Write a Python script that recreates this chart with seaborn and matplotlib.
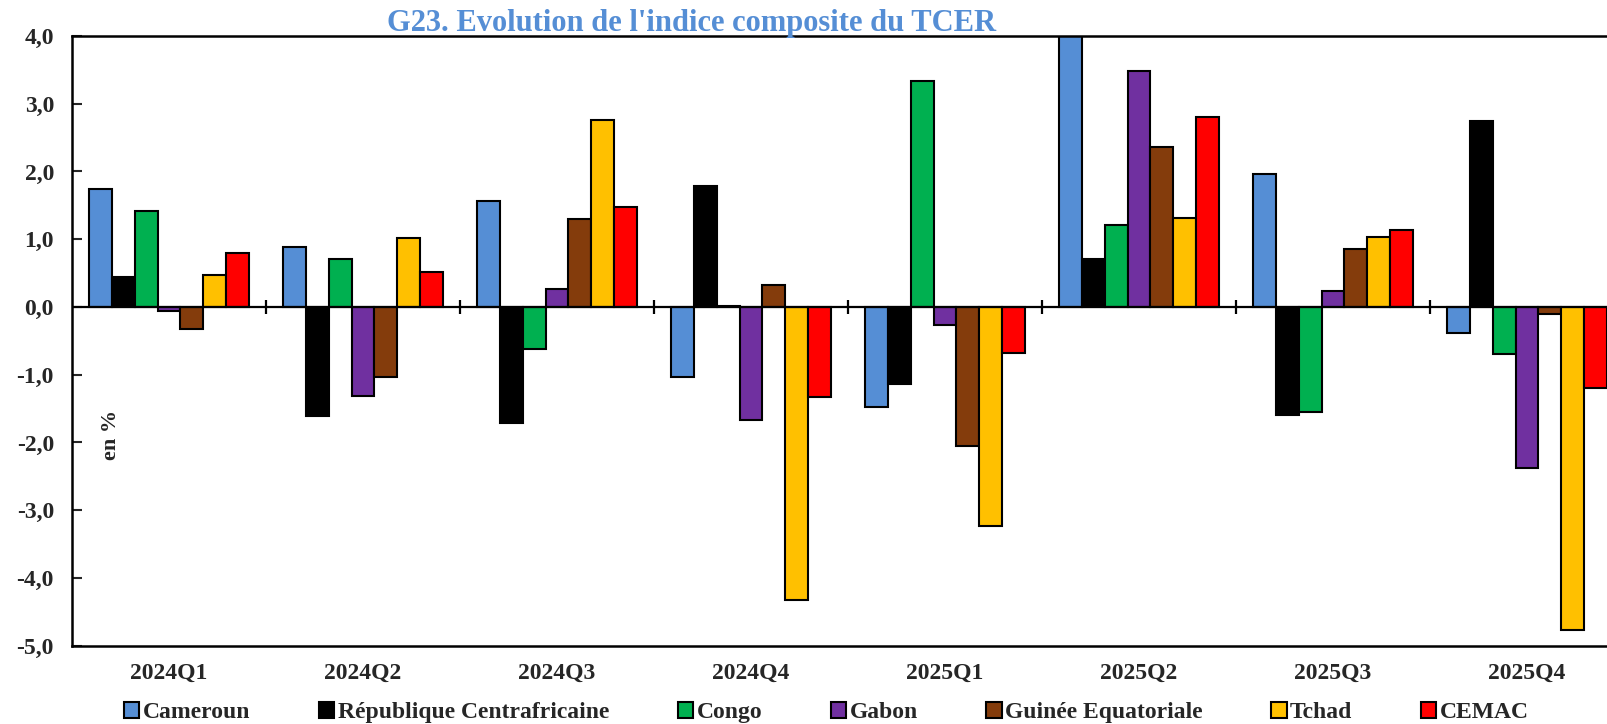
import numpy as np
import pandas as pd
import matplotlib
matplotlib.use('Agg')
import matplotlib.pyplot as plt
import seaborn as sns

quarters = ['2024Q1', '2024Q2', '2024Q3', '2024Q4', '2025Q1', '2025Q2', '2025Q3', '2025Q4']
pays = ['Cameroun', 'République Centrafricaine', 'Congo', 'Gabon', 'Guinée Equatoriale', 'Tchad', 'CEMAC']
cameroun = [1.74, 0.89, 1.56, -1.03, -1.47, 4.30, 1.97, -0.39]
rca = [0.44, -1.61, -1.71, 1.79, -1.14, 0.71, -1.59, 2.74]
congo = [1.42, 0.71, -0.62, 0.01, 3.33, 1.21, -1.55, -0.69]
gabon = [-0.06, -1.32, 0.26, -1.67, -0.26, 3.49, 0.23, -2.37]
guinee = [-0.32, -1.03, 1.30, 0.32, -2.05, 2.36, 0.86, -0.10]
tchad = [0.47, 1.02, 2.76, -4.33, -3.23, 1.32, 1.03, -4.77]
cemac = [0.79, 0.52, 1.47, -1.33, -0.68, 2.81, 1.14, -1.20]
couleurs = ['#558ED5', '#000000', '#00B050', '#7030A0', '#843C0C', '#FFC000', '#FF0000']

series = [cameroun, rca, congo, gabon, guinee, tchad, cemac]
df = pd.DataFrame({
    'trimestre': quarters * len(pays),
    'pays': [p for p in pays for _ in quarters],
    'valeur': [v for s in series for v in s],
})

sns.set_style('white')
plt.rcParams['font.family'] = ['Liberation Serif', 'DejaVu Serif']
plt.rcParams['font.weight'] = 'bold'

fig = plt.figure(figsize=(16.08, 7.24), dpi=100)
ax = fig.add_axes([72 / 1608, 1 - 645.7 / 724, 1552 / 1608, 609.7 / 724])

sns.barplot(data=df, x='trimestre', y='valeur', hue='pays', hue_order=pays,
            palette=couleurs, saturation=1, width=0.82, gap=0,
            edgecolor='black', linewidth=1.5, ax=ax)

ax.set_ylim(-5, 4)
ax.set_xlim(-0.5, len(quarters) - 0.5)
yt = np.arange(-5, 5, 1)
ax.set_yticks(yt)
ax.set_yticklabels([f'{v:.1f}'.replace('.', ',') for v in yt], fontsize=17, fontweight='bold')
ax.tick_params(axis='y', direction='in', length=7, width=1.5, pad=13, left=True)
ax.tick_params(axis='x', length=0, pad=12, labelsize=17)
for lab in ax.get_xticklabels():
    lab.set_fontweight('bold')
ax.set_xlabel('')
ax.set_ylabel('')

for s in ['left', 'top', 'bottom', 'right']:
    ax.spines[s].set_visible(True)
    ax.spines[s].set_linewidth(1.8)
    ax.spines[s].set_color('black')

ax.axhline(0, color='black', lw=1.6, zorder=1)
ax.vlines(np.arange(len(quarters) - 1) + 0.5, -0.1, 0.1, color='black', lw=1.6)

ax.legend(loc='center', bbox_to_anchor=(0.514, 0.016), bbox_transform=fig.transFigure,
          ncol=7, frameon=False, handlelength=0.65, handleheight=0.65,
          handletextpad=0.15, columnspacing=2.9, prop={'size': 17, 'weight': 'bold'})

fig.text(0.43, 0.968, "G23. Evolution de l'indice composite du TCER", ha='center', va='center',
         fontsize=22, fontweight='bold', color='#558ED5')
fig.text(111 / 1608, 1 - 435 / 724, 'en %', rotation=90, ha='center', va='center',
         fontsize=16, fontweight='bold')

fig.savefig('out.png', dpi=100)
